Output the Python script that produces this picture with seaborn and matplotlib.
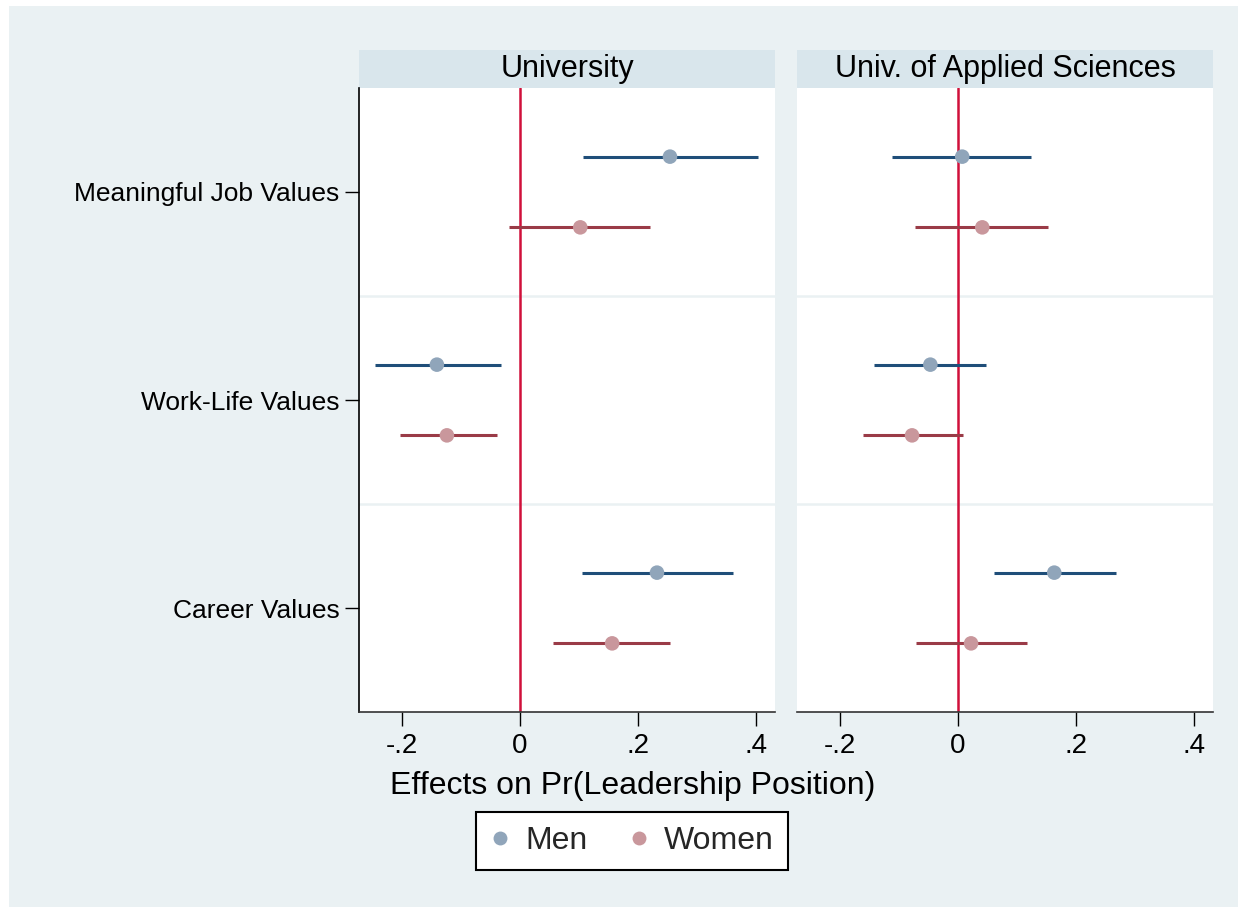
import numpy as np
import pandas as pd
import matplotlib
matplotlib.use("Agg")
import matplotlib.pyplot as plt
from matplotlib.patches import Rectangle
from matplotlib.lines import Line2D
import seaborn as sns

# ---------------- data ----------------
panels = ["University", "Univ. of Applied Sciences"]
categories = ["Meaningful Job Values", "Work-Life Values", "Career Values"]
genders = ["Men", "Women"]

# University
uni_men_est = [0.254, -0.141, 0.232]
uni_men_lo = [0.107, -0.246, 0.105]
uni_men_hi = [0.403, -0.032, 0.361]
uni_women_est = [0.102, -0.124, 0.156]
uni_women_lo = [-0.019, -0.203, 0.056]
uni_women_hi = [0.220, -0.039, 0.254]

# Univ. of Applied Sciences
uas_men_est = [0.007, -0.047, 0.163]
uas_men_lo = [-0.112, -0.142, 0.061]
uas_men_hi = [0.124, 0.047, 0.268]
uas_women_est = [0.041, -0.078, 0.022]
uas_women_lo = [-0.073, -0.161, -0.071]
uas_women_hi = [0.153, 0.008, 0.117]

xticks = [-0.2, 0, 0.2, 0.4]
xticklabels = ["-.2", "0", ".2", ".4"]
xlabel = "Effects on Pr(Leadership Position)"

rows = []
series = {
    ("University", "Men"): (uni_men_est, uni_men_lo, uni_men_hi),
    ("University", "Women"): (uni_women_est, uni_women_lo, uni_women_hi),
    ("Univ. of Applied Sciences", "Men"): (uas_men_est, uas_men_lo, uas_men_hi),
    ("Univ. of Applied Sciences", "Women"): (uas_women_est, uas_women_lo, uas_women_hi),
}
offsets = {"Men": -0.17, "Women": 0.17}
for (p, g), (est, lo, hi) in series.items():
    for i, c in enumerate(categories):
        rows.append(dict(panel=p, gender=g, category=c, est=est[i], lo=lo[i], hi=hi[i],
                         ypos=i + offsets[g]))
df = pd.DataFrame(rows)

# ---------------- style ----------------
sns.set_theme(style="white")
plt.rcParams["font.family"] = ["Liberation Sans", "DejaVu Sans"]

BG = "#EAF1F3"
STRIP = "#D9E6EC"
marker_col = {"Men": "#90A5BA", "Women": "#C9979C"}
line_col = {"Men": "#1F4E79", "Women": "#9A3B47"}
REF = "#D0103A"

W, H = 1238, 907
fig = plt.figure(figsize=(W / 100, H / 100), dpi=100, facecolor="white")
fig.patches.append(Rectangle((9 / W, 0), 1 - 9 / W, 1 - 6 / H, transform=fig.transFigure,
                             facecolor=BG, edgecolor="none", zorder=-10))

def fx(px):
    return px / W

def fy(py):
    return 1 - py / H

top, bot = 88, 712
lefts = [(359, 775), (797, 1213)]
axes = []
for k, (x0, x1) in enumerate(lefts):
    ax = fig.add_axes([fx(x0), fy(bot), (x1 - x0) / W, (bot - top) / H])
    axes.append(ax)

for k, (ax, p) in enumerate(zip(axes, panels)):
    sub = df[df.panel == p]
    ax.set_facecolor("white")
    for g in genders:
        s = sub[sub.gender == g]
        ax.hlines(s["ypos"], s["lo"], s["hi"], color=line_col[g], lw=2.2, zorder=3)
    sns.scatterplot(data=sub, x="est", y="ypos", hue="gender", hue_order=genders,
                    palette=marker_col, s=110, edgecolor="none", linewidth=0,
                    ax=ax, legend=False, zorder=4)
    ax.axvline(0, color=REF, lw=1.8, zorder=2)
    for yg in [0.5, 1.5]:
        ax.axhline(yg, color=BG, lw=1.8, zorder=1)
    ax.set_xlim(-0.273, 0.432)
    ax.set_ylim(2.5, -0.5)
    ax.set_xticks(xticks)
    ax.set_xticklabels(xticklabels, fontsize=20)
    ax.set_xlabel("")
    ax.set_ylabel("")
    ax.tick_params(axis="x", length=10, width=1, color="black", direction="out",
                   bottom=True, pad=5, labelcolor="black")
    for sp in ["top", "right"]:
        ax.spines[sp].set_visible(False)
    ax.spines["bottom"].set_color("#333333")
    ax.spines["bottom"].set_linewidth(1.2)
    if k == 0:
        ax.set_yticks(range(len(categories)))
        ax.set_yticklabels(categories, fontsize=19)
        ax.tick_params(axis="y", length=10, width=1, color="black", direction="out",
                       left=True, pad=4, labelcolor="black")
        ax.spines["left"].set_color("black")
        ax.spines["left"].set_linewidth(1.2)
    else:
        ax.set_yticks([])
        ax.spines["left"].set_visible(False)
    # strip header
    sh = 38 / (bot - top)
    ax.add_patch(Rectangle((0, 1), 1, sh, transform=ax.transAxes, facecolor=STRIP,
                           edgecolor="none", clip_on=False, zorder=0))
    ax.text(0.5, 1 + sh / 2, p, transform=ax.transAxes, ha="center", va="center",
            fontsize=22, color="black")

fig.text(fx(633), fy(786), xlabel, ha="center", va="center", fontsize=23, color="black")

handles = [Line2D([], [], marker="o", ls="none", color=marker_col[g], markersize=10,
                  markeredgewidth=0) for g in genders]
leg = fig.legend(handles, genders, loc="center", bbox_to_anchor=(fx(632), fy(841)),
                 ncol=2, fontsize=23, frameon=True, fancybox=False, edgecolor="black",
                 facecolor="white", framealpha=1, handletextpad=0.5, columnspacing=1.3,
                 borderpad=0.45, handlelength=0.6, borderaxespad=0)
leg.get_frame().set_linewidth(1.5)

fig.savefig("out.png", dpi=100, facecolor=fig.get_facecolor())
